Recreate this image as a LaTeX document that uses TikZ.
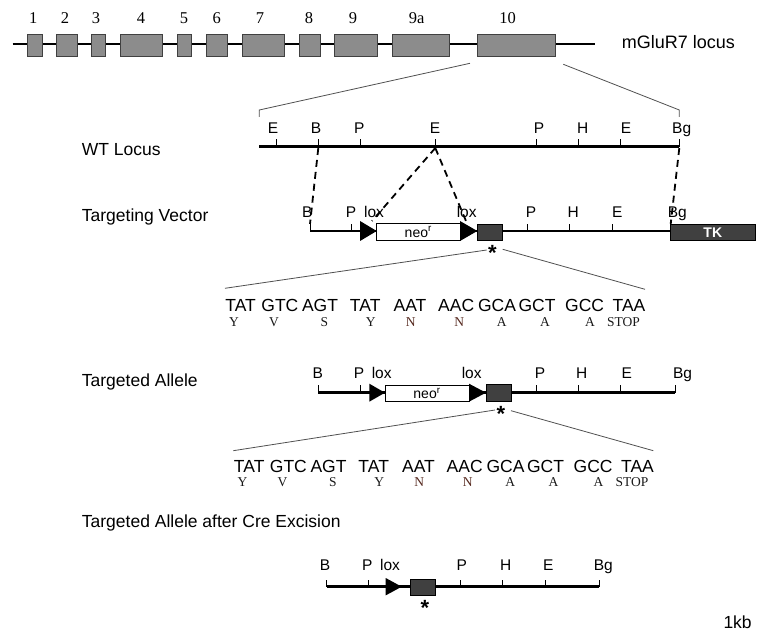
\documentclass[tikz,border=0pt]{standalone}
\usepackage{fontspec}
\setmainfont{Liberation Sans}
\newfontfamily\serifface{Liberation Serif}
\definecolor{exongray}{RGB}{140,140,140}
\definecolor{darkfill}{RGB}{64,64,64}
\definecolor{zoomgray}{RGB}{80,80,80}
\definecolor{aabrown}{RGB}{85,40,30}
\definecolor{aadark}{RGB}{25,25,25}
\begin{document}
\begin{tikzpicture}[x=1pt,y=-1pt,
  rowline/.style={line width=2.2pt},
  dna/.style={line width=2.7pt},
  tickline/.style={line width=0.8pt},
  exonbox/.style={draw=black!75, line width=0.8pt, fill=exongray},
  darkbox/.style={draw=black, line width=0.8pt, fill=darkfill},
  neobox/.style={draw=black, line width=0.8pt, fill=white},
  loxtri/.style={fill=black},
  zoomline/.style={draw=zoomgray, line width=0.8pt},
  dashlink/.style={line width=1.8pt, dash pattern=on 7pt off 5pt},
  site/.style={font=\fontsize{15.5}{15.5}\selectfont, inner sep=0pt, anchor=base},
  lbl/.style={font=\fontsize{17.5}{18}\selectfont, inner sep=0pt, anchor=base west},
  exnum/.style={font=\serifface\fontsize{16.5}{17}\selectfont, inner sep=0pt, anchor=base},
  codon/.style={font=\fontsize{17.5}{17.5}\selectfont, inner sep=0pt, anchor=base},
  aa/.style={font=\serifface\fontsize{13.5}{13.5}\selectfont, inner sep=0pt, anchor=base, text=aadark},
  star/.style={font=\bfseries\fontsize{22}{22}\selectfont, inner sep=0pt, anchor=base},
  neotext/.style={font=\fontsize{14}{14}\selectfont, inner sep=0pt},
  tktext/.style={font=\bfseries\fontsize{14}{14}\selectfont, inner sep=0pt, text=white}
]
\useasboundingbox (0,0) rectangle (758,636);

% ---------------- mGluR7 locus (exon row) ----------------
\coordinate (rowL) at (12.7,44.3);
\coordinate (rowR) at (595,44.3);
\draw[rowline] (rowL) -- (rowR);
\foreach \a/\b/\n/\lx in {27.3/42/1/33.3, 56/77.7/2/65, 91.7/105.7/3/96, 120/162.7/4/141,
  177/191.7/5/184, 206/227.7/6/216.7, 242/284.7/7/260, 299/320.7/8/309,
  334/377.7/9/353, 392/449/9a/416.7, 477.3/555.7/10/507.7}{
  \draw[exonbox] (\a,34) rectangle (\b,56.7);
  \node[exnum] (num\n) at (\lx,23.3) {\n};
}
\node[lbl, font=\fontsize{18}{18}\selectfont] (mglur) at (621.7,48.3) {mGluR7 locus};

% zoom lines from exon 10 to WT locus
\coordinate (z10L) at (470,63.3);
\coordinate (z10R) at (563.3,64.3);
\coordinate (wtLtop) at (259.3,110);
\coordinate (wtLbot) at (259.3,117);
\coordinate (wtRtop) at (679.3,110);
\coordinate (wtRbot) at (679.3,117);
\draw[zoomline] (z10L) -- (wtLtop) -- (wtLbot);
\draw[zoomline] (z10R) -- (wtRtop) -- (wtRbot);

% ---------------- WT locus ----------------
\node[lbl] (wtlabel) at (81.7,156) {WT Locus};
\coordinate (wtA) at (259.3,146.7);
\coordinate (wtB) at (679.3,146.7);
\draw[dna] (wtA) -- (wtB);
\foreach \x in {276,318.3,360,435.3,536,578.7,620.3,679.3}
  \draw[tickline] (\x,146.7) -- (\x,139.3);
\foreach \x/\t [count=\i] in {273/E,316/B,359.3/P,435/E,539/P,582.7/H,626/E,681.7/Bg}
  \node[site] (wts\i) at (\x,133.5) {\t};

% ---------------- Targeting vector ----------------
\node[lbl] (tvlabel) at (81.7,221.7) {Targeting Vector};
\coordinate (tvA) at (310,231);
\coordinate (tvB) at (670.7,231);
\draw[dna] (tvA) -- (tvB);
\foreach \x in {310,351.7,527.3,569.3,612,670.7}
  \draw[tickline] (\x,231) -- (\x,223.8);
\fill[loxtri] (360,221) -- (360,241) -- (376.7,231) -- cycle;
\draw[neobox] (376.7,223.3) rectangle (460,240.7);
\node[neotext] (tvneo) at (418.3,232) {neo\textsuperscript{r}};
\fill[loxtri] (460,221) -- (460,241) -- (477.3,231) -- cycle;
\draw[darkbox] (477.3,224.3) rectangle (502.7,240.7);
\draw[darkbox] (670.7,224.3) rectangle (755,240.7);
\node[tktext] (tk) at (712.8,232.5) {TK};
\node[star] (tvstar) at (492.3,260.5) {*};
\foreach \x/\t [count=\i] in {307.3/B,351/P,374/lox,466.7/lox,531/P,573.3/H,617.3/E,677.3/Bg}
  \node[site] (tvs\i) at (\x,218) {\t};

% dashed homology links
\coordinate (dB1) at (318.3,148);   \coordinate (dB2) at (310,224);
\coordinate (dE)  at (435.3,148);   \coordinate (dL1) at (372,221);
\coordinate (dL2) at (466,221);
\coordinate (dG1) at (679.3,148);   \coordinate (dG2) at (670.7,224);
\draw[dashlink] (dB1) -- (dB2);
\draw[dashlink] (dE) -- (dL1);
\draw[dashlink] (dE) -- (dL2);
\draw[dashlink] (dG1) -- (dG2);

% zoom lines to sequence 1
\coordinate (s1a) at (486.7,250);  \coordinate (s1b) at (225,288.3);
\coordinate (s1c) at (502.7,249.3);\coordinate (s1d) at (645,289.3);
\draw[zoomline] (s1a) -- (s1b);
\draw[zoomline] (s1c) -- (s1d);

% sequence 1
\foreach \x/\t [count=\i] in {240.7/TAT,279.9/GTC,320/AGT,365.2/TAT,410/AAT,456.2/AAC,497/GCA,537/GCT,584.6/GCC,629/TAA}
  \node[codon] (ca\i) at (\x,312) {\t};
\foreach \x/\t [count=\i] in {234/Y,274/V,324.3/S,370.7/Y,501.7/A,545/A,590/A,623.5/STOP}
  \node[aa] (aa\i) at (\x,326.8) {\t};
\node[aa, text=aabrown] (aan1) at (410.7,326.8) {N};
\node[aa, text=aabrown] (aan2) at (459.3,326.8) {N};

% ---------------- Targeted allele ----------------
\node[lbl] (talabel) at (81.7,386) {Targeted Allele};
\coordinate (taA) at (318.3,392.7);
\coordinate (taB) at (675,392.7);
\draw[dna] (taA) -- (taB);
\foreach \x in {318.3,360,536,578.3,620,675}
  \draw[tickline] (\x,392.7) -- (\x,385.5);
\fill[loxtri] (369.3,383.7) -- (369.3,401.7) -- (385,392.7) -- cycle;
\draw[neobox] (385,385) rectangle (469,401);
\node[neotext] (taneo) at (427,393.5) {neo\textsuperscript{r}};
\fill[loxtri] (469,383.7) -- (469,401.7) -- (486,392.7) -- cycle;
\draw[darkbox] (486,384.3) rectangle (511,401.7);
\node[star] (tastar) at (501,421.5) {*};
\foreach \x/\t [count=\i] in {317.7/B,359/P,381.7/lox,471.7/lox,540/P,581.7/H,626.7/E,682.5/Bg}
  \node[site] (tas\i) at (\x,378.3) {\t};

% zoom lines to sequence 2
\coordinate (s2a) at (495,410);    \coordinate (s2b) at (233.3,450.7);
\coordinate (s2c) at (511,410.7);  \coordinate (s2d) at (653.3,450.7);
\draw[zoomline] (s2a) -- (s2b);
\draw[zoomline] (s2c) -- (s2d);

% sequence 2
\foreach \x/\t [count=\i] in {249.2/TAT,288.4/GTC,328.5/AGT,373.7/TAT,418.5/AAT,464.7/AAC,505.5/GCA,545.5/GCT,593.1/GCC,637.5/TAA}
  \node[codon] (cb\i) at (\x,472) {\t};
\foreach \x/\t [count=\i] in {242.5/Y,282.5/V,332.8/S,379.2/Y,510.2/A,553.5/A,598.5/A,632/STOP}
  \node[aa] (ab\i) at (\x,486.8) {\t};
\node[aa, text=aabrown] (abn1) at (419.2,486.8) {N};
\node[aa, text=aabrown] (abn2) at (467.8,486.8) {N};

% ---------------- Targeted allele after Cre excision ----------------
\node[lbl] (crelabel) at (81.7,527.3) {Targeted Allele after Cre Excision};
\coordinate (crA) at (326.7,586.7);
\coordinate (crB) at (599,586.7);
\draw[dna] (crA) -- (crB);
\foreach \x in {326.7,368.3,460.7,502.3,545,599}
  \draw[tickline] (\x,586.7) -- (\x,579.5);
\fill[loxtri] (385.7,578) -- (385.7,595.4) -- (401.7,586.7) -- cycle;
\draw[darkbox] (410,579) rectangle (435.7,595);
\node[star] (crstar) at (425,615) {*};
\foreach \x/\t [count=\i] in {325/B,367.3/P,390/lox,461.7/P,505.7/H,548.3/E,603.3/Bg}
  \node[site] (crs\i) at (\x,570) {\t};

\node[lbl] (scale) at (723.3,628.3) {1kb};
\end{tikzpicture}
\end{document}
